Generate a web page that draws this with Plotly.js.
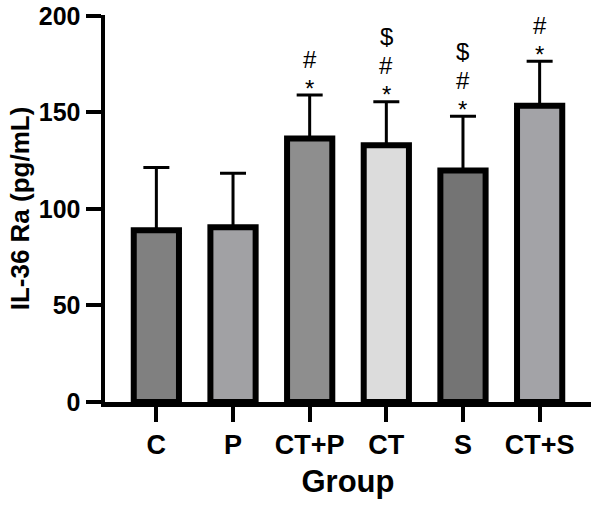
<!DOCTYPE html>
<html><head><meta charset="utf-8">
<script src="https://cdn.plot.ly/plotly-3.0.1.min.js"></script>
<style>html,body{margin:0;padding:0;background:#fff}</style>
</head><body>
<div id="chart" style="width:593px;height:505px"></div>
<script>
var groups = ["C", "P", "CT+P", "CT", "S", "CT+S"];
var means = [89, 90.5, 136.5, 133, 120, 153.5];
var sds = [32.5, 28, 22.5, 22.5, 28, 23];
var barColors = ["#808080", "#a1a1a4", "#8e8e8e", "#dcdcdc", "#747474", "#a3a3a7"];
var marks = [[], [], ["*", "#"], ["*", "#", "$"], ["*", "#", "$"], ["*", "#"]];
var yTicks = [0, 50, 100, 150, 200];

var FONT = "Liberation Sans, Arial, sans-serif";
var trace = {
  type: "bar",
  x: groups,
  y: means,
  width: 0.59,
  marker: {color: barColors, line: {color: "#000", width: 6}},
  error_y: {type: "data", array: sds, arrayminus: sds.map(function(){return 0;}), symmetric: false,
            color: "#000", thickness: 3, width: 13},
  hoverinfo: "none"
};

var levelShift = [13, 36, 65];
var annotations = [];
marks.forEach(function(list, i) {
  list.forEach(function(sym, k) {
    annotations.push({
      x: groups[i], y: means[i] + sds[i], xref: "x", yref: "y",
      text: sym, showarrow: false, yanchor: "middle", yshift: levelShift[k] + (sym === "*" ? -6 : 0),
      font: {family: FONT, size: 24, color: "#000"}
    });
  });
});

var layout = {
  width: 593, height: 505,
  margin: {l: 105, r: 2, t: 15, b: 103},
  paper_bgcolor: "#fff", plot_bgcolor: "#fff",
  showlegend: false,
  font: {family: FONT, color: "#000"},
  xaxis: {
    range: [-0.67, 5.67], showgrid: false, zeroline: false,
    showline: true, linecolor: "#000", linewidth: 4.5,
    ticks: "outside", ticklen: 15, tickwidth: 4, tickcolor: "#000",
    tickfont: {family: FONT, size: 27, weight: 700},
    title: {text: "<b>Group</b>", font: {family: FONT, size: 31}, standoff: 13}
  },
  yaxis: {
    range: [0, 200.5], autorange: false, showgrid: false, zeroline: false,
    showline: true, linecolor: "#000", linewidth: 4.5,
    ticks: "outside", ticklen: 15, tickwidth: 4, tickcolor: "#000",
    tickmode: "array", tickvals: yTicks, ticktext: yTicks.map(String),
    ticklabeloverflow: "allow",
    tickfont: {family: FONT, size: 25, weight: 700},
    title: {text: "<b>IL-36 Ra (pg/mL)</b>", font: {family: FONT, size: 26}, standoff: 3}
  },
  annotations: annotations
};

Plotly.newPlot("chart", [trace], layout, {displayModeBar: false, staticPlot: true});
</script>
</body></html>
